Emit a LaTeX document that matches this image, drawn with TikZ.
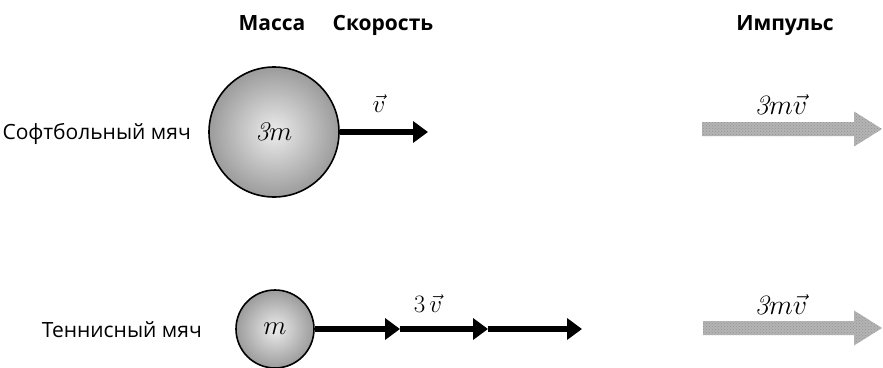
\RequirePackage{fix-cm}
\documentclass[tikz,border=0pt]{standalone}
\usepackage{fontspec}
\setmainfont{Open Sans}
\newfontfamily\lmfont{Latin Modern Roman}
\usepackage{tikz}
\usetikzlibrary{positioning, arrows.meta, patterns}
\definecolor{impgray}{RGB}{180,180,180}
\newcommand{\itthree}{\mbox{\lmfont\itshape 3}}

\begin{document}
\begin{tikzpicture}[x=1pt, y=-1pt, every node/.style={inner sep=2pt},
  lbl/.style={font=\fontsize{21}{24}\selectfont, anchor=base east},
  head/.style={font=\fontsize{21}{24}\selectfont\bfseries, anchor=base},
  vlbl/.style={font=\fontsize{25}{28}\selectfont, anchor=base},
  mlbl/.style={font=\fontsize{28}{32}\selectfont, anchor=base},
  ball/.style={circle, draw, line width=1.6pt, inner sep=0pt,
    inner color=gray!15, outer color=gray!78, font=\fontsize{27}{30}\selectfont},
  vel/.style={line width=6.5pt, -{Triangle[length=15pt, width=21pt]}},
  imp/.style={fill=impgray, postaction={pattern=crosshatch dots, pattern color=gray!85}}]
\useasboundingbox (0,0) rectangle (883,367);

% column heads
\node[head] (hmass) at (272,30) {Масса};
\node[head] (hvel) at (383,30) {Скорость};
\node[head] (himp) at (785,30) {Импульс};

% softball
\node[ball, minimum size=130pt] (soft) at (274,132) {$\itthree m$};
\node[lbl] (softlbl) at (193,139) {Софтбольный мяч};
\coordinate (v1) at (428,132);
\draw[vel] (soft.east) -- (v1);
\node[vlbl] (vlab) at (379,112) {$\vec v$};
\coordinate (p1) at (702,129);
\fill[imp] (p1) ++(0,-7) -- ++(152,0) -- ++(0,-10.5) -- ++(28,17.5)
  -- ++(-28,17.5) -- ++(0,-10.5) -- ++(-152,0) -- cycle;
\node[mlbl] (p1lbl) at (781,114) {$\itthree m\vec v$};

% tennis ball
\node[ball, minimum size=78pt] (ten) at (275,329) {$m$};
\node[lbl] (tenlbl) at (204,337) {Теннисный мяч};
\coordinate (t1) at (400,329);
\coordinate (t2) at (488,329);
\coordinate (t3) at (582,329);
\draw[vel] (ten.east) -- (t1);
\draw[vel] (t1) -- (t2);
\draw[vel] (t2) -- (t3);
\node[vlbl] (tlbl) at (428,312) {$3\,\vec v$};
\coordinate (p2) at (703,328);
\fill[imp] (p2) ++(0,-7) -- ++(151,0) -- ++(0,-10.5) -- ++(28,17.5)
  -- ++(-28,17.5) -- ++(0,-10.5) -- ++(-151,0) -- cycle;
\node[mlbl] (p2lbl) at (781,314) {$\itthree m\vec v$};
\end{tikzpicture}
\end{document}
